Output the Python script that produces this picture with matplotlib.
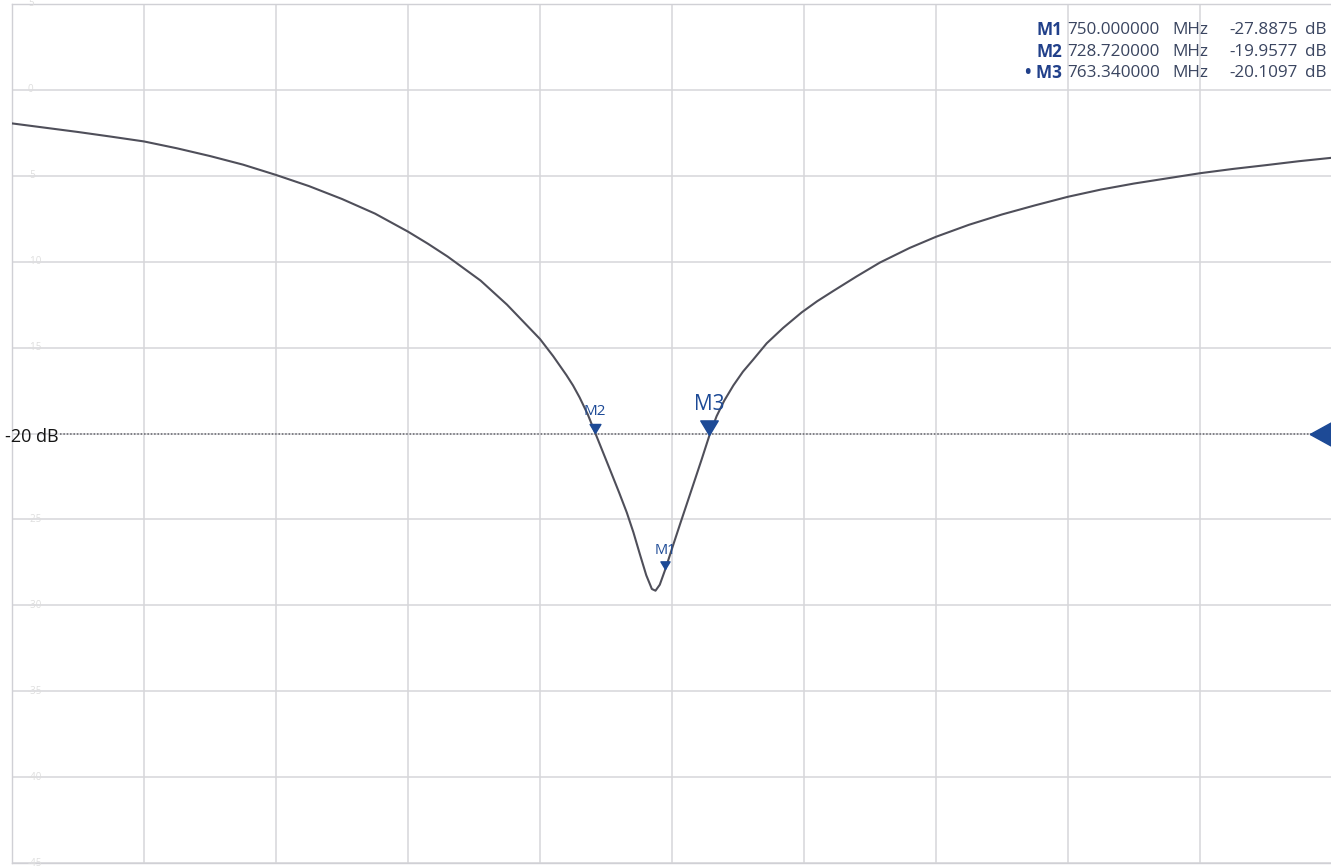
import matplotlib
matplotlib.use("Agg")
import matplotlib.pyplot as plt
import numpy as np

# ---- data ----
freq_mhz = [552, 562, 572, 582, 592, 602, 612, 622, 632, 642, 652, 662, 672,
            678, 684, 689, 694, 698, 702, 707, 712, 716, 720, 722, 724, 726.5,
            728.72, 731, 733.2, 736, 738.3, 740.3, 742.3, 744.2, 745.9, 747,
            748.3, 750, 752, 754.4, 756.4, 758.4, 761, 763.34, 765.5, 767.8,
            770.6, 773.5, 776.6, 780.7, 785.7, 791.3, 796, 800.9, 808, 815,
            824, 832, 842, 852, 862, 872, 882, 892, 902, 912, 922, 932, 942,
            952]
s11_db = [-1.95, -2.2, -2.45, -2.72, -3.0, -3.4, -3.85, -4.35, -4.95, -5.6,
          -6.35, -7.2, -8.25, -8.95, -9.7, -10.4, -11.1, -11.8, -12.5, -13.5,
          -14.5, -15.5, -16.6, -17.2, -17.9, -18.9, -19.96, -21.05, -22.1,
          -23.45, -24.6, -25.75, -27.05, -28.25, -29.05, -29.15, -28.8,
          -27.89, -26.7, -25.3, -24.15, -23.0, -21.5, -20.11, -19.0, -18.1,
          -17.2, -16.4, -15.7, -14.75, -13.85, -12.95, -12.3, -11.7, -10.85,
          -10.05, -9.2, -8.55, -7.85, -7.25, -6.72, -6.22, -5.8, -5.45,
          -5.15, -4.85, -4.6, -4.38, -4.15, -3.95]

marker_names = ["M1", "M2", "M3"]
marker_freq = [750.000000, 728.720000, 763.340000]
marker_db = [-27.8875, -19.9577, -20.1097]

ref_level_db = -20
y_ticks = [5, 0, -5, -10, -15, -20, -25, -30, -35, -40, -45]
x_start, x_stop, x_div = 552, 952, 40

# ---- figure ----
W, H = 1331, 867
fig = plt.figure(figsize=(W / 100, H / 100), dpi=100)
fig.patch.set_facecolor("white")
ax = fig.add_axes([12 / W, 4 / H, 1320 / W, 859 / H])
ax.set_xlim(x_start, x_stop)
ax.set_ylim(-45, 5)
ax.set_xticks(np.arange(x_start, x_stop + 1, x_div))
ax.set_yticks(y_ticks)
ax.grid(True, color="#d6d6da", linewidth=1.1)
ax.tick_params(left=False, bottom=False, labelleft=False, labelbottom=False)
for sp in ax.spines.values():
    sp.set_color("#d0d0d5")
    sp.set_linewidth(1.0)

font = "Open Sans"
blue = "#1d4a96"

# faint scale labels (barely visible in the scan)
for v in y_ticks:
    if v == ref_level_db:
        continue
    ax.text(0.012, v, str(v), transform=ax.get_yaxis_transform(),
            fontsize=7, color="#dedede", va="center", ha="left", family=font)

# trace
ax.plot(freq_mhz, s11_db, color="#4f4f5a", linewidth=1.5, zorder=3,
        solid_joinstyle="round")

# reference line
ax.axhline(ref_level_db, xmin=0.036, xmax=0.985, color="#66666c",
           linestyle=(0, (1, 1.2)), linewidth=1.1, zorder=2)
fig.text(5 / W, 1 - 437 / H, "-20 dB", fontsize=13, color="#151515",
         va="center", ha="left", family=font)

# right-edge reference arrow (base at the right edge, tip pointing left)
tri_left = [(-1, 0), (0, 0.55), (0, -0.55), (-1, 0)]
ax.plot([x_stop], [ref_level_db], marker=tri_left, markersize=32,
        color=blue, clip_on=False, zorder=5, linestyle="none")

# markers: tip at the data point
tri_down = [(0, 0), (-0.6, 1), (0.6, 1), (0, 0)]
msize = {"M1": 11, "M2": 13, "M3": 21}
lsize = {"M1": 10.5, "M2": 11, "M3": 15}
loff = {"M1": 8, "M2": 10, "M3": 15}
for name, f, d in zip(marker_names, marker_freq, marker_db):
    ax.plot([f], [d], marker=tri_down, markersize=msize[name], color=blue,
            linestyle="none", zorder=5)
    ax.annotate(name, (f, d), xytext=(0, loff[name]), textcoords="offset points",
                ha="center", va="bottom", fontsize=lsize[name], color=blue,
                family=font, zorder=6)

# marker readout table (top right)
rows_y = [30, 52, 73]
tsize = 12.3
for i, (name, f, d) in enumerate(zip(marker_names, marker_freq, marker_db)):
    yy = 1 - rows_y[i] / H
    lab = ("\u2022 " if name == "M3" else "") + name
    fig.text(1062 / W, yy, lab, fontsize=tsize, color="#21408a",
             fontweight="bold", ha="right", va="center", family=font)
    fig.text(1067 / W, yy, f"{f:.6f}", fontsize=tsize, color="#3a4560",
             ha="left", va="center", family=font)
    fig.text(1172 / W, yy, "MHz", fontsize=tsize, color="#3a4560",
             ha="left", va="center", family=font)
    fig.text(1298 / W, yy, f"{d:.4f}", fontsize=tsize, color="#3a4560",
             ha="right", va="center", family=font)
    fig.text(1305 / W, yy, "dB", fontsize=tsize, color="#3a4560",
             ha="left", va="center", family=font)

fig.savefig("out.png", dpi=100, facecolor="white")
